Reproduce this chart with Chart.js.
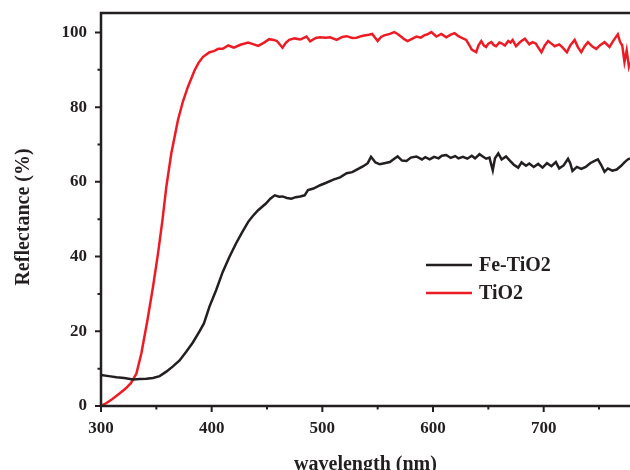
<!DOCTYPE html>
<html>
<head>
<meta charset="utf-8">
<script src="https://cdn.jsdelivr.net/npm/chart.js@4"></script>
<style>
  html, body { margin: 0; padding: 0; background: #fff; overflow: hidden; }
  canvas { display: block; }
</style>
</head>
<body>
<canvas id="reflectanceChart" width="630" height="470"></canvas>
<script>
// Fe-TiO2 reflectance
const feWavelength = [300, 307, 314, 321, 329, 335, 341, 347, 353, 359, 365, 371, 377, 383, 389, 393, 398, 404, 410, 416,
    422, 427, 433, 437, 442, 449, 453, 457, 461, 464, 468, 472, 476, 480, 484, 487, 492, 498, 503, 510,
    516, 522, 527, 532, 537, 541, 544, 548, 552, 556, 561, 565, 568, 572, 576, 580, 585, 590, 593, 597,
    601, 605, 608, 612, 616, 620, 623, 627, 631, 635, 638, 642, 645, 648, 651, 654, 656, 659, 662, 666,
    669, 673, 677, 680, 684, 687, 691, 695, 699, 703, 707, 711, 714, 718, 722, 724, 726, 730, 734, 738,
    742, 746, 749, 752, 755, 758, 762, 766, 770, 773, 776, 778];
const feReflectance = [8.3, 8.0, 7.7, 7.5, 7.1, 7.2, 7.3, 7.5, 8.0, 9.2, 10.6, 12.2, 14.5, 17.0, 20.0, 22.1, 26.6, 31.0, 35.9, 39.9,
    43.5, 46.2, 49.3, 50.8, 52.4, 54.2, 55.5, 56.4, 56.0, 56.1, 55.7, 55.5, 55.9, 56.1, 56.4, 57.8, 58.2, 59.1, 59.7, 60.6,
    61.2, 62.3, 62.6, 63.4, 64.2, 65.0, 66.7, 65.2, 64.7, 65.0, 65.3, 66.2, 66.8, 65.7, 65.6, 66.5, 66.8, 66.0, 66.6, 66.0,
    66.7, 66.3, 67.0, 67.2, 66.4, 66.9, 66.3, 66.7, 66.2, 67.0, 66.3, 67.4, 66.8, 66.2, 66.5, 63.1, 66.3, 67.6, 66.0, 66.8,
    65.8, 64.6, 63.8, 65.2, 64.3, 64.9, 64.0, 64.8, 63.8, 65.0, 64.2, 65.3, 63.6, 64.4, 66.2, 65.0, 62.9, 64.0, 63.5, 64.0,
    65.0, 65.6, 66.0, 64.5, 62.7, 63.6, 63.0, 63.3, 64.3, 65.2, 66.0, 66.3];

// TiO2 reflectance
const tiWavelength = [300, 305, 310, 317, 322, 327, 332, 336.5, 342, 347, 351.5, 355.5, 359, 363.5, 369.5, 374, 378.5, 384.5, 388, 392,
    398, 402, 406, 410, 415, 420, 426, 433, 438, 442, 447, 452, 456, 459, 464, 467, 470, 475, 480, 485.7,
    489, 494, 498, 503, 507, 513, 518, 522, 527, 531, 535, 538, 542, 545, 550, 553, 556, 561, 565, 568,
    571, 574, 577, 581, 585, 589, 592, 595, 598.5, 603, 607.5, 612, 616, 619.5, 623, 625.6, 630, 633, 635, 639,
    641, 643.6, 646, 648, 650, 652.7, 655, 657, 660, 662, 665, 668, 670, 672, 675, 679, 683, 687, 690, 693,
    695, 698, 701, 704, 707, 710, 714, 717, 721, 724, 728, 731, 734, 737, 740, 744, 747.5, 751, 755, 759.5,
    763, 767, 769, 771, 773, 775, 777, 778];
const tiReflectance = [0.0, 0.8, 1.8, 3.4, 4.6, 6.1, 8.7, 14.1, 23.0, 31.9, 40.8, 49.7, 58.6, 67.6, 76.5, 81.5, 85.4, 89.8, 91.8, 93.4,
    94.7, 95.0, 95.6, 95.6, 96.5, 95.9, 96.7, 97.3, 96.8, 96.4, 97.2, 98.2, 98.0, 97.7, 95.9, 97.2, 98.0, 98.4, 98.1, 98.9,
    97.6, 98.5, 98.7, 98.6, 98.7, 98.0, 98.8, 99.0, 98.5, 98.6, 99.0, 99.2, 99.4, 99.6, 97.7, 98.8, 99.2, 99.6, 100.1, 99.6,
    98.9, 98.2, 97.7, 98.3, 98.9, 98.6, 99.2, 99.5, 100.1, 98.9, 99.6, 98.7, 99.4, 99.8, 99.0, 98.6, 98.0, 96.5, 95.4, 94.7,
    96.5, 97.7, 96.5, 96.1, 97.0, 97.4, 96.6, 96.3, 97.3, 97.1, 96.5, 97.7, 97.3, 98.0, 96.3, 97.5, 98.3, 96.8, 97.4, 97.0,
    96.0, 94.7, 96.5, 97.7, 97.0, 96.3, 96.8, 96.0, 94.7, 96.5, 98.0, 96.0, 94.7, 96.3, 97.4, 96.2, 95.6, 96.6, 97.4, 96.1,
    97.8, 99.5, 97.5, 96.5, 92.1, 95.2, 90.9, 92.0];

const xTicks = [300, 400, 500, 600, 700];
const xMinorTicks = [350, 450, 550, 650, 750];
const yTicks = [0, 20, 40, 60, 80, 100];
const yMinorTicks = [10, 30, 50, 70, 90];

const ink = '#231f20';
const serif = '"Liberation Serif", "Times New Roman", serif';

const toPoints = (xs, ys) => xs.map((x, i) => ({ x: x, y: ys[i] }));

// axes frame with long major / short minor ticks pointing outward
const framePlugin = {
    id: 'frame',
    afterDraw(chart) {
        const { ctx, chartArea: a, scales: { x, y } } = chart;
        ctx.save();
        ctx.strokeStyle = ink;
        ctx.lineWidth = 2.5;
        ctx.lineCap = 'butt';
        ctx.beginPath();
        ctx.moveTo(a.left - 1.25, a.top); ctx.lineTo(a.right, a.top);
        ctx.moveTo(a.left, a.top); ctx.lineTo(a.left, a.bottom);
        ctx.moveTo(a.left - 1.25, a.bottom); ctx.lineTo(a.right, a.bottom);
        ctx.stroke();
        ctx.lineWidth = 2;
        ctx.beginPath();
        xTicks.forEach(v => { const p = x.getPixelForValue(v); ctx.moveTo(p, a.bottom); ctx.lineTo(p, a.bottom + 6); });
        xMinorTicks.forEach(v => { const p = x.getPixelForValue(v); ctx.moveTo(p, a.bottom); ctx.lineTo(p, a.bottom + 3.5); });
        yTicks.forEach(v => { const p = y.getPixelForValue(v); ctx.moveTo(a.left, p); ctx.lineTo(a.left - 6, p); });
        yMinorTicks.forEach(v => { const p = y.getPixelForValue(v); ctx.moveTo(a.left, p); ctx.lineTo(a.left - 3.5, p); });
        ctx.stroke();

        // y axis title, placed like the original figure
        ctx.translate(24, 217);
        ctx.rotate(-Math.PI / 2);
        ctx.font = 'bold 20px ' + serif;
        ctx.fillStyle = ink;
        ctx.textAlign = 'center';
        ctx.textBaseline = 'middle';
        ctx.fillText('Reflectance (%)', 0, 0);
        ctx.restore();
    }
};

// legend inside the plot
const insideLegend = {
    id: 'insideLegend',
    afterDraw(chart) {
        const ctx = chart.ctx;
        ctx.save();
        ctx.font = 'bold 20px ' + serif;
        ctx.textBaseline = 'middle';
        chart.data.datasets.forEach((ds, i) => {
            const yPos = 265 + i * 28;
            ctx.strokeStyle = ds.borderColor;
            ctx.lineWidth = 2.5;
            ctx.beginPath();
            ctx.moveTo(426, yPos);
            ctx.lineTo(472, yPos);
            ctx.stroke();
            ctx.fillStyle = ink;
            ctx.fillText(ds.label, 479, yPos + 1);
        });
        ctx.restore();
    }
};

const ctx = document.getElementById('reflectanceChart').getContext('2d');
new Chart(ctx, {
    type: 'line',
    data: {
        datasets: [
            { label: 'Fe-TiO2', data: toPoints(feWavelength, feReflectance), borderColor: '#231f20', borderWidth: 2.5, pointRadius: 0, tension: 0, fill: false },
            { label: 'TiO2', data: toPoints(tiWavelength, tiReflectance), borderColor: '#ed1c24', borderWidth: 2.5, pointRadius: 0, tension: 0, fill: false }
        ]
    },
    options: {
        responsive: false,
        animation: false,
        layout: { padding: { top: 13, right: 0, left: 0, bottom: 0 } },
        plugins: { legend: { display: false }, tooltip: { enabled: false } },
        scales: {
            x: {
                type: 'linear',
                min: 300,
                max: 778,
                afterBuildTicks: s => { s.ticks = xTicks.map(v => ({ value: v })); },
                afterFit: s => { s.height = 64; s.paddingLeft = 0; s.paddingRight = 0; },
                grid: { display: false, drawTicks: false },
                border: { display: false },
                ticks: { color: ink, padding: 12, maxRotation: 0, font: { family: serif, size: 17, weight: 'bold' } },
                title: { display: true, text: 'wavelength (nm)', color: ink, padding: { top: 0, bottom: -7 }, font: { family: serif, size: 20, weight: 'bold' } }
            },
            y: {
                min: 0,
                max: 105.2,
                afterBuildTicks: s => { s.ticks = yTicks.map(v => ({ value: v })); },
                afterFit: s => { s.width = 101; s.paddingTop = 0; s.paddingBottom = 0; },
                grid: { display: false, drawTicks: false },
                border: { display: false },
                ticks: { color: ink, padding: 14, font: { family: serif, size: 17, weight: 'bold' } }
            }
        }
    },
    plugins: [framePlugin, insideLegend]
});
</script>
</body>
</html>
